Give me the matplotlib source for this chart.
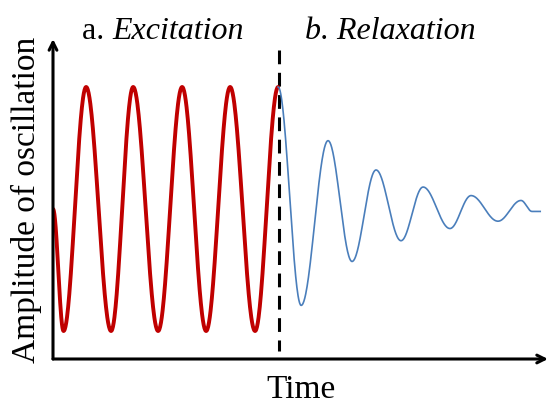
import numpy as np
import matplotlib.pyplot as plt

# extrema of the driven oscillation (time, amplitude)
exc_t = [0.0, 2.2, 6.9, 12.1, 16.7, 21.9, 26.9, 31.9, 36.9, 42.1, 46.9]
exc_a = [0.0, -1.0, 1.0, -1.0, 1.0, -1.0, 1.0, -1.0, 1.0, -1.0, 1.0]

# extrema of the free (damped) oscillation
rel_t = [46.9, 51.7, 57.3, 62.3, 67.3, 72.5, 77.1, 82.7, 87.1, 92.7, 97.5, 99.8, 101.5]
rel_a = [1.0, -0.79, 0.56, -0.43, 0.32, -0.26, 0.18, -0.16, 0.11, -0.10, 0.07, -0.02, -0.02]

switch_t = 47.1


def wave(ts, amps, n=60):
    # half-cosine segments joining successive extrema
    xs, ys = [], []
    for i in range(len(ts) - 1):
        s = np.linspace(0, 1, n)
        w = (1 - np.cos(np.pi * s)) / 2
        xs.append(ts[i] + (ts[i + 1] - ts[i]) * s)
        ys.append(amps[i] + (amps[i + 1] - amps[i]) * w)
    return np.concatenate(xs), np.concatenate(ys)


W, H = 549, 407
fig = plt.figure(figsize=(W / 100, H / 100), dpi=100)
ax = fig.add_axes([53 / W, (H - 359) / H, (548 - 53) / W, (359 - 39) / H])
ax.set_xlim(0, (548 - 53) / 4.8)
ax.set_ylim((209 - 359) / 122, (209 - 39) / 122)
ax.axis('off')

x, y = wave(exc_t, exc_a)
ax.plot(x, y, color='#C00000', lw=2.8, solid_capstyle='round', zorder=3)
x, y = wave(rel_t, rel_a)
ax.plot(x, y, color='#4A7EBB', lw=1.2, zorder=4)

ax.plot([switch_t, switch_t], [1.30, -1.16], color='black', lw=2.2,
        dashes=(4.5, 2.8), zorder=2)

# axes with arrow heads
arrow = dict(arrowstyle='->', lw=2.2, color='black', mutation_scale=14,
             shrinkA=0, shrinkB=0)
ax.annotate('', xy=(0, 1), xytext=(0, 0), xycoords='axes fraction', arrowprops=arrow)
ax.annotate('', xy=(1, 0), xytext=(0, 0), xycoords='axes fraction', arrowprops=arrow)

serif = 'Liberation Serif'
fs = 23
ta = fig.text(82 / W, 1 - 39 / H, 'a. ', family=serif, fontsize=fs, va='baseline')
r = fig.canvas.get_renderer()
bb = ta.get_window_extent(r)
fig.text(bb.x1 / W, 1 - 39 / H, 'Excitation', family=serif, fontsize=fs,
         style='italic', va='baseline')
fig.text(305 / W, 1 - 39 / H, 'b. Relaxation', family=serif, fontsize=fs,
         style='italic', va='baseline')
fig.text(301 / W, 1 - 398 / H, 'Time', family=serif, fontsize=24,
         ha='center', va='baseline')
fig.text(26 / W, 1 - 200 / H, 'Amplitude of oscillation', family=serif,
         fontsize=24, rotation=90, ha='center', va='center')

fig.savefig('out.png', dpi=100)
